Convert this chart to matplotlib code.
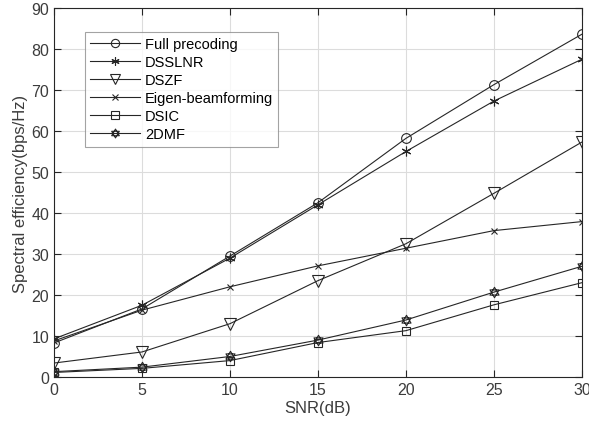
import numpy as np
import matplotlib
matplotlib.use('Agg')
import matplotlib.pyplot as plt
from matplotlib.path import Path

snr = [0, 5, 10, 15, 20, 25, 30]
full_precoding = [8.3, 16.6, 29.5, 42.5, 58.2, 71.3, 83.6]
dsslnr = [9.3, 17.5, 29.0, 42.0, 55.0, 67.3, 77.5]
dszf = [3.4, 6.1, 13.0, 23.5, 32.5, 44.8, 57.3]
eigen_bf = [8.8, 16.3, 22.0, 27.1, 31.4, 35.7, 37.9]
dsic = [1.1, 2.1, 4.0, 8.4, 11.3, 17.6, 23.0]
dmf2 = [1.3, 2.4, 5.0, 9.0, 13.9, 20.7, 27.0]

# hexagram marker: two overlapping triangles
ang_up = np.deg2rad([90, 210, 330, 90])
ang_dn = np.deg2rad([270, 30, 150, 270])
verts = list(zip(np.cos(ang_up), np.sin(ang_up))) + list(zip(np.cos(ang_dn), np.sin(ang_dn)))
codes = [Path.MOVETO, Path.LINETO, Path.LINETO, Path.CLOSEPOLY] * 2
hexagram = Path(verts, codes)

plt.rcParams['font.family'] = ['Liberation Sans', 'DejaVu Sans']

fig = plt.figure(figsize=(5.89, 4.27), dpi=100)
ax = fig.add_axes([0.0917, 0.1148, 0.8963, 0.8642])

style = dict(color='#262626', lw=0.8, mfc='none', mec='#262626', mew=0.8)
ax.plot(snr, full_precoding, marker='o', ms=7, label='Full precoding', **style)
ax.plot(snr, dsslnr, marker=(6, 2, 0), ms=7, label='DSSLNR', **style)
ax.plot(snr, dszf, marker='v', ms=8.5, label='DSZF', **style)
ax.plot(snr, eigen_bf, marker='x', ms=5, label='Eigen-beamforming', **style)
ax.plot(snr, dsic, marker='s', ms=6, label='DSIC', **style)
ax.plot(snr, dmf2, marker=hexagram, ms=7.5, label='2DMF', **style)

ax.set_xlim(0, 30)
ax.set_ylim(0, 90)
ax.set_xticks(range(0, 31, 5))
ax.set_yticks(range(0, 91, 10))
ax.grid(True, color='#dcdcdc', lw=0.8)
ax.set_axisbelow(True)
ax.tick_params(direction='in', top=True, right=True, length=5, width=0.8,
               colors='#262626', labelcolor='#3c3c3c', labelsize=11.5)
for sp in ax.spines.values():
    sp.set_color('#262626')
    sp.set_linewidth(0.8)

ax.set_xlabel('SNR(dB)', fontsize=12, color='#3c3c3c', labelpad=2)
ax.set_ylabel('Spectral efficiency(bps/Hz)', fontsize=12, color='#3c3c3c', labelpad=2)

leg = ax.legend(loc='upper left', bbox_to_anchor=(0.059, 0.935), borderaxespad=0,
                fontsize=10.5, handlelength=3.4, handletextpad=0.35,
                labelspacing=0.28, borderpad=0.35, frameon=True, fancybox=False,
                markerscale=0.85)
leg.get_frame().set_edgecolor('#8c8c8c')
leg.get_frame().set_linewidth(0.8)

fig.savefig('out.png', dpi=100)
